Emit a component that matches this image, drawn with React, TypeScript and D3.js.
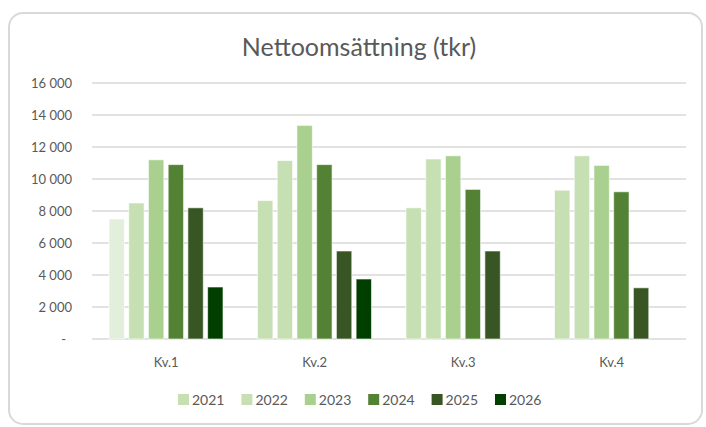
import React from "react";
import * as d3 from "d3";

// data (tkr)
const categories = ["Kv.1", "Kv.2", "Kv.3", "Kv.4"];
const years = ["2021", "2022", "2023", "2024", "2025", "2026"];
const v2021 = [7500, 8650, 8200, 9300];
const v2022 = [8500, 11150, 11250, 11450];
const v2023 = [11200, 13350, 11450, 10850];
const v2024 = [10900, 10900, 9350, 9200];
const v2025 = [8200, 5500, 5500, 3200];
const v2026 = [3250, 3750, null, null];
const yTicks = [0, 2000, 4000, 6000, 8000, 10000, 12000, 14000, 16000];

const seriesValues = [v2021, v2022, v2023, v2024, v2025, v2026];
const colors = ["#c6e0b4", "#c6e0b4", "#a9d08e", "#548235", "#375623", "#003f00"];
// single data point with its own fill in the original (2021, Kv.1)
const pointFill: Record<string, string> = { "2021|Kv.1": "#e2efda" };

const W = 706;
const H = 427;
const margin = { left: 92, right: 20, top: 83, bottom: 88 };
const FONT = "Lato, 'Open Sans', sans-serif";
const TEXT = "#595959";
const GRID = "#d9d9d9";

const locale = d3.formatLocale({ decimal: ",", thousands: " ", grouping: [3], currency: ["", ""] });
const fmt = locale.format(",d");

const App = () => {
  const x0 = d3
    .scaleBand<string>()
    .domain(categories)
    .range([margin.left, W - margin.right])
    .padding(0);

  const x1 = d3
    .scaleBand<string>()
    .domain(years)
    .range([17, x0.bandwidth() - 17.5])
    .paddingInner(0.22)
    .paddingOuter(0);

  const y = d3
    .scaleLinear()
    .domain([0, 16000])
    .range([H - margin.bottom, margin.top]);

  const legendStep = 63.4;
  const legendX0 = 178;

  return (
    <svg
      width={W}
      height={H}
      style={{ position: "absolute", left: 0, top: 0, background: "#fff" }}
      fontFamily={FONT}
    >
      <rect x={9} y={13} width={693} height={411} rx={14} fill="#fff" stroke={GRID} strokeWidth={2} />

      <text x={359} y={56} textAnchor="middle" fontSize={25} fill={TEXT}>
        Nettoomsättning (tkr)
      </text>

      {/* gridlines and y labels */}
      {yTicks.map(t => (
        <g key={t}>
          <line
            x1={margin.left}
            x2={W - margin.right}
            y1={y(t)}
            y2={y(t)}
            stroke={GRID}
            strokeWidth={1.5}
          />
          <text
            x={t === 0 ? 66 : 72}
            y={y(t)}
            dy="0.35em"
            textAnchor="end"
            fontSize={13}
            fill={TEXT}
          >
            {t === 0 ? "-" : fmt(t)}
          </text>
        </g>
      ))}

      {/* bars */}
      {categories.map((c, ci) => (
        <g key={c} transform={`translate(${x0(c)},0)`}>
          {years.map((yr, si) => {
            const v = seriesValues[si][ci];
            if (v == null) return null;
            return (
              <rect
                key={yr}
                x={x1(yr)}
                y={y(v)}
                width={x1.bandwidth()}
                height={y(0) - y(v)}
                fill={pointFill[`${yr}|${c}`] || colors[si]}
                stroke="#ffffff"
                strokeOpacity={0.6}
                strokeWidth={1}
              />
            );
          })}
          <text
            x={x0.bandwidth() / 2}
            y={y(0) + 28}
            textAnchor="middle"
            fontSize={13}
            fill={TEXT}
          >
            {c}
          </text>
        </g>
      ))}

      {/* legend */}
      {years.map((yr, i) => (
        <g key={yr} transform={`translate(${legendX0 + i * legendStep},394)`}>
          <rect width={11} height={11} fill={colors[i]} />
          <text x={14} y={10.5} fontSize={14} fill={TEXT}>
            {yr}
          </text>
        </g>
      ))}
    </svg>
  );
};

export default App;
